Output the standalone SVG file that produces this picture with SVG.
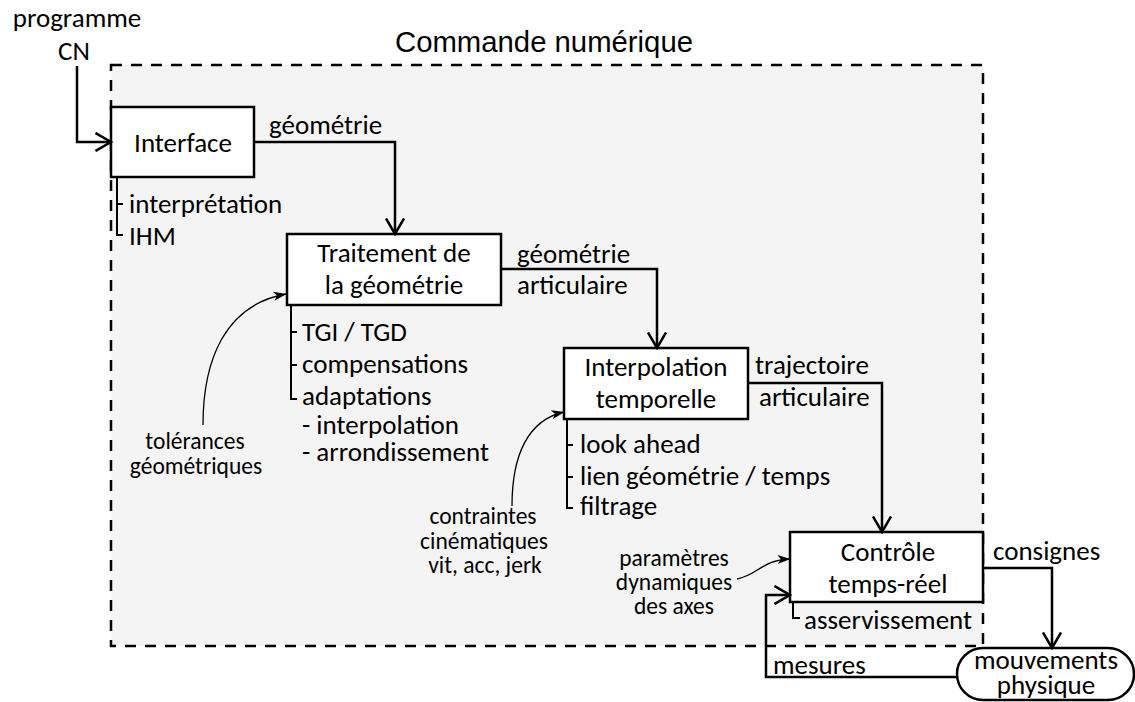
<svg xmlns="http://www.w3.org/2000/svg" width="1135" height="702" viewBox="0 0 1135 702">
<style>
  .t { font-family: Carlito, Lato, "Open Sans", sans-serif; font-size: 27px; fill: #000; }
  .s { font-family: Carlito, Lato, "Open Sans", sans-serif; font-size: 23.5px; fill: #000; }
  .ttl { font-family: "Liberation Sans", Arial, sans-serif; font-size: 29.3px; fill: #000; }
  .box { fill: #fff; stroke: #000; stroke-width: 2.5; }
  .conn { fill: none; stroke: #000; stroke-width: 2.5; }
  .brk { fill: none; stroke: #000; stroke-width: 2; }
  .thin { fill: none; stroke: #000; stroke-width: 1.3; }
  .mid { text-anchor: middle; }
</style>
<defs>
  <marker id="open" viewBox="0 0 18 20" refX="16.5" refY="10" markerWidth="18" markerHeight="20" markerUnits="userSpaceOnUse" orient="auto">
    <path d="M1,1 L16.5,10 L1,19" fill="none" stroke="#000" stroke-width="2.5"/>
  </marker>
  <marker id="stealth" viewBox="0 0 13 10" refX="12.5" refY="5" markerWidth="13" markerHeight="10" markerUnits="userSpaceOnUse" orient="auto">
    <path d="M0,0.5 L13,5 L0,9.5 L3.5,5 z" fill="#000"/>
  </marker>
</defs>
<rect width="1135" height="702" fill="#fff"/>

<g id="commande-numerique">
  <rect x="111" y="65" width="872" height="581" fill="#f4f4f4" stroke="#000" stroke-width="2.5" stroke-dasharray="11 9"/>
  <text class="ttl" x="395" y="52">Commande numérique</text>
</g>

<g id="programme-cn">
  <text class="t mid" x="77" y="27">programme</text>
  <text class="t mid" x="74" y="60">CN</text>
</g>

<g id="interface">
  <rect class="box" x="111" y="107" width="143" height="70"/>
  <text class="t mid" x="183" y="152">Interface</text>
  <path class="brk" d="M117,177 V235 H123 M117,204 H123"/>
  <text class="t" x="129" y="213">interprétation</text>
  <text class="t" x="129" y="245">IHM</text>
</g>

<g id="traitement">
  <rect class="box" x="287" y="234" width="214" height="71"/>
  <text class="t mid" x="394" y="262">Traitement de</text>
  <text class="t mid" x="394" y="294">la géométrie</text>
  <path class="brk" d="M291,305 V399 H297 M291,332 H297 M291,365 H297"/>
  <text class="t" x="302" y="341">TGI / TGD</text>
  <text class="t" x="302" y="373">compensations</text>
  <text class="t" x="302" y="405">adaptations</text>
  <text class="t" x="302" y="434">- interpolation</text>
  <text class="t" x="302" y="461">- arrondissement</text>
</g>

<g id="interpolation">
  <rect class="box" x="564" y="348" width="184" height="71"/>
  <text class="t mid" x="656" y="376">Interpolation</text>
  <text class="t mid" x="656" y="408">temporelle</text>
  <path class="brk" d="M567,419 V508 H573 M567,445 H573 M567,477 H573"/>
  <text class="t" x="580" y="453">look ahead</text>
  <text class="t" x="580" y="485">lien géométrie / temps</text>
  <text class="t" x="580" y="515">filtrage</text>
</g>

<g id="controle">
  <rect class="box" x="790" y="532" width="193" height="70"/>
  <text class="t mid" x="888" y="561">Contrôle</text>
  <text class="t mid" x="888" y="593">temps-réel</text>
  <path class="brk" d="M793,602 V618 H800"/>
  <text class="t" x="804" y="629">asservissement</text>
</g>

<g id="mouvements">
  <rect class="box" x="957" y="648" width="177" height="52" rx="26"/>
  <text class="t mid" x="1046" y="669">mouvements</text>
  <text class="t mid" x="1046" y="694">physique</text>
</g>

<g id="tolerances">
  <text class="s mid" x="195" y="449">tolérances</text>
  <text class="s mid" x="196" y="474">géométriques</text>
</g>

<g id="contraintes">
  <text class="s mid" x="483" y="524">contraintes</text>
  <text class="s mid" x="484" y="549">cinématiques</text>
  <text class="s mid" x="485" y="573">vit, acc, jerk</text>
</g>

<g id="parametres">
  <text class="s mid" x="674" y="566">paramètres</text>
  <text class="s mid" x="674" y="590">dynamiques</text>
  <text class="s mid" x="674" y="614">des axes</text>
</g>

<g id="connectors">
  <path class="conn" d="M77,66 V142 H111" marker-end="url(#open)"/>
  <path class="conn" d="M254,142 H395 V234" marker-end="url(#open)"/>
  <text class="t" x="269" y="134">géométrie</text>
  <path class="conn" d="M501,269 H657 V348" marker-end="url(#open)"/>
  <text class="t" x="517" y="263">géométrie</text>
  <text class="t" x="517" y="294">articulaire</text>
  <path class="conn" d="M748,383 H882 V532" marker-end="url(#open)"/>
  <text class="t" x="755" y="374">trajectoire</text>
  <text class="t" x="759" y="406">articulaire</text>
  <path class="conn" d="M983,568 H1052 V648" marker-end="url(#open)"/>
  <text class="t" x="993" y="560">consignes</text>
  <path class="conn" d="M957,677 H766 V595 H790" marker-end="url(#open)"/>
  <text class="t" x="773" y="674">mesures</text>
  <path class="thin" d="M203,425 C203,360 225,305 286,294" marker-end="url(#stealth)"/>
  <path class="thin" d="M512,506 C512,455 528,420 564,412" marker-end="url(#stealth)"/>
  <path class="thin" d="M737,579 C758,575 762,560 790,559" marker-end="url(#stealth)"/>
</g>
</svg>
